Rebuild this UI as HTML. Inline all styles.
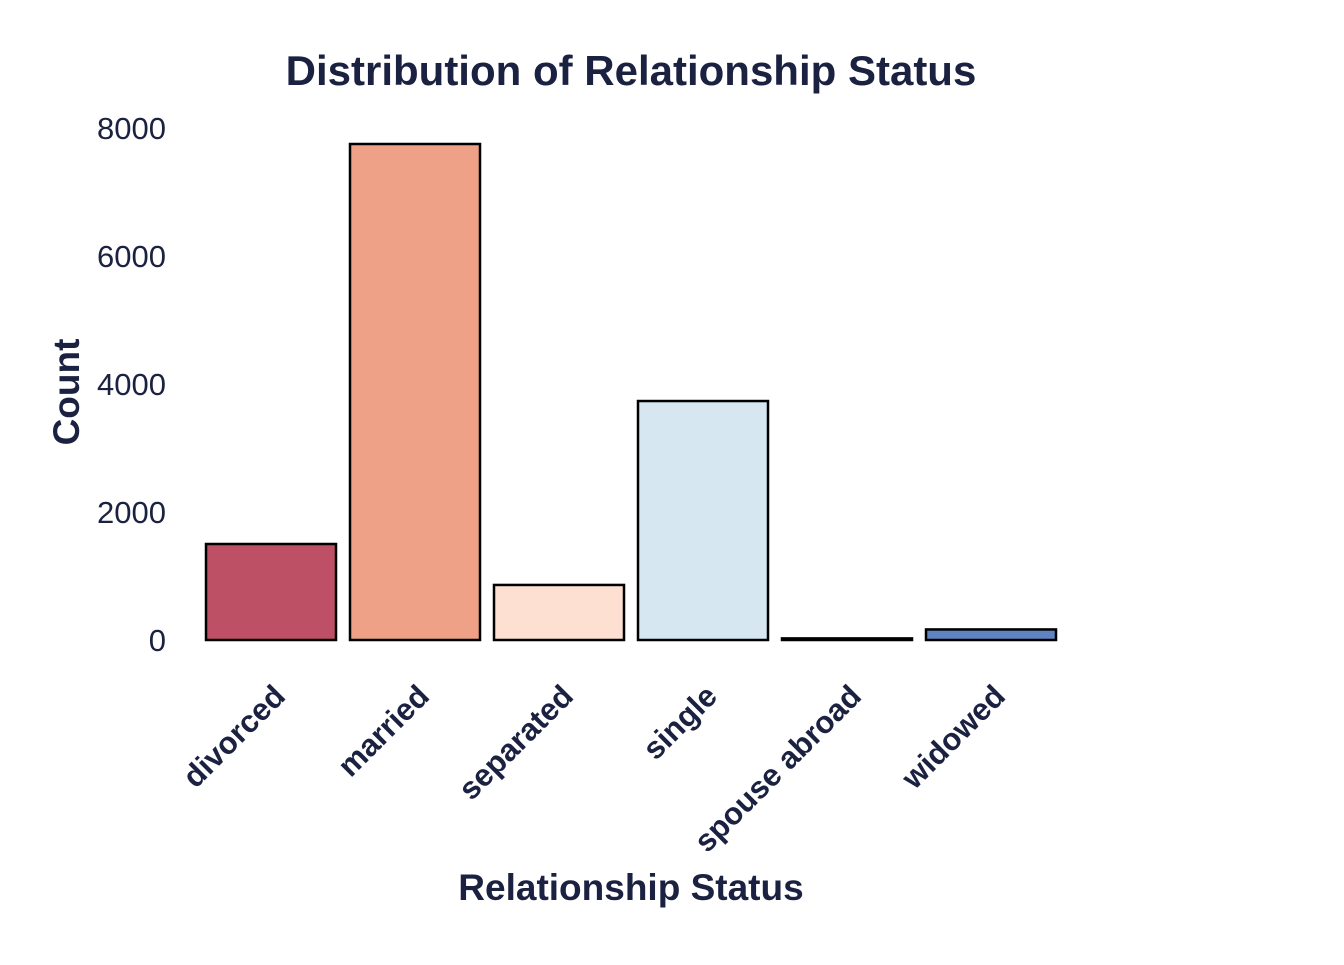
<!DOCTYPE html>
<html><head><meta charset="utf-8"><style>
body{margin:0;background:#fff;}
svg text{font-family:"Liberation Sans",Arial,sans-serif;fill:#1b2140;}
</style></head><body>
<svg id="chart" width="1344" height="960" xmlns="http://www.w3.org/2000/svg">
<text x="631" y="85" text-anchor="middle" font-size="42" font-weight="bold">Distribution of Relationship Status</text>
<text transform="translate(79,392) rotate(-90)" text-anchor="middle" font-size="37" font-weight="bold">Count</text>
<text x="631" y="900" text-anchor="middle" font-size="37" font-weight="bold">Relationship Status</text>
<g id="bars"></g><g id="yticks"></g><g id="xticks"></g>
</svg>
<script>
const categories=["divorced","married","separated","single","spouse abroad","widowed"];
const counts=[1500,7750,860,3734,25,165];
const colors=["#be5065","#eea186","#fde0d2","#d7e7f1","#2d5aa0","#5f84c0"];
const yTicks=[0,2000,4000,6000,8000];
const ns="http://www.w3.org/2000/svg";
const y=v=>640-v*0.064;
const x=i=>206+i*144;
const bw=130;
const bars=document.getElementById('bars'),yt=document.getElementById('yticks'),xt=document.getElementById('xticks');
categories.forEach((c,i)=>{
  const r=document.createElementNS(ns,'rect');
  
  
  r.setAttribute('x',x(i));r.setAttribute('y',y(counts[i]));
  r.setAttribute('width',bw);r.setAttribute('height',Math.max(0,640-y(counts[i])));
  r.setAttribute('fill',colors[i]);r.setAttribute('stroke','#000');r.setAttribute('stroke-width','2.5');
  bars.appendChild(r);
  const t=document.createElementNS(ns,'text');
  
  
  const cx=x(i)+bw/2+16, cy=698;
  t.setAttribute('transform',`translate(${cx},${cy}) rotate(-45)`);
  t.setAttribute('text-anchor','end');t.setAttribute('font-size','31');t.setAttribute('font-weight','bold');
  t.textContent=c;xt.appendChild(t);
});
yTicks.forEach(v=>{
  const t=document.createElementNS(ns,'text');
  
  
  t.setAttribute('x',166);t.setAttribute('y',y(v)+11);
  t.setAttribute('text-anchor','end');t.setAttribute('font-size','31');
  t.textContent=v;yt.appendChild(t);
});
</script>
</body></html>
